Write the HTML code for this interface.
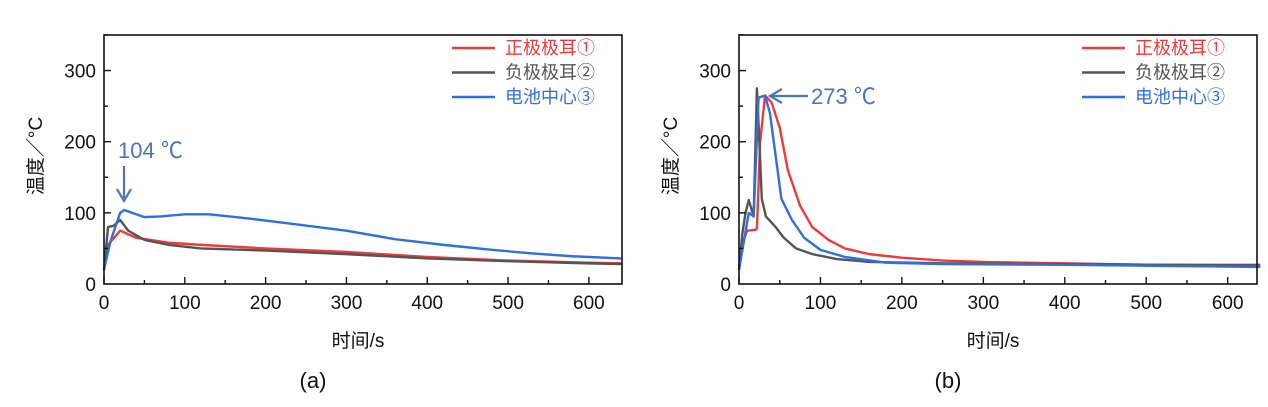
<!DOCTYPE html>
<html><head><meta charset="utf-8"><style>
body{margin:0;background:#fff;}
svg text{font-family:"Liberation Sans","Noto Sans CJK SC",sans-serif;}
</style></head><body>
<svg width="1268" height="402" viewBox="0 0 1268 402" xmlns="http://www.w3.org/2000/svg">
<g id="ga"></g>
<g id="gb"></g>
</svg>
<script>
const seriesNames=["正极极耳①","负极极耳②","电池中心③"];
const seriesColors=["#ee3a3a","#555555","#2f6fde"];
const xTicks=[0,100,200,300,400,500,600];
const yTicks=[0,100,200,300];
const aRedX=[0,5,20,40,80,120,200,300,400,500,600,640];
const aRedY=[20,55,75,65,58,55,50,45,38,33,30,29];
const aGrayX=[0,5,12,20,30,50,80,120,200,300,400,500,600,640];
const aGrayY=[20,80,82,90,75,62,55,50,47,42,36,32,29,28];
const aBlueX=[0,8,20,25,35,50,70,100,130,180,230,300,360,420,480,530,580,640];
const aBlueY=[20,60,100,104,100,94,95,98,98,92,85,75,63,55,48,43,39,36];
const bRedX=[0,5,10,20,22,26,32,40,50,60,75,90,110,130,160,200,250,300,400,500,640];
const bRedY=[20,60,75,76,78,200,265,255,220,160,110,80,62,50,42,37,33,31,29,27,27];
const bGrayX=[0,4,8,12,18,22,25,28,33,45,55,70,90,120,160,250,400,640];
const bGrayY=[20,70,100,118,95,275,200,120,95,80,65,50,42,35,31,29,28,26];
const bBlueX=[0,6,12,18,24,32,38,45,52,65,80,100,130,180,250,400,640];
const bBlueY=[20,60,100,95,262,265,240,180,120,90,65,48,38,30,28,27,24];
const NS="http://www.w3.org/2000/svg";
function mk(p,t,a,txt){const e=document.createElementNS(NS,t);for(const k in a)e.setAttribute(k,a[k]);if(txt!==undefined)e.textContent=txt;p.appendChild(e);return e;}
function chart(g,L,R,xmax,lx,series,ann,lab){
  const T=35,B=284,ymax=350;
  const X=v=>L+v/xmax*(R-L), Y=v=>B-v/ymax*(B-T);
  series.forEach((s,i)=>{
    const p=mk(g,"polyline",{points:s[0].map((x,j)=>X(x)+","+Y(s[1][j])).join(" "),fill:"none",stroke:seriesColors[i],"stroke-width":2.4,"stroke-linejoin":"round"});
    
    
  });
  const f=mk(g,"rect",{x:L,y:T,width:R-L,height:B-T,fill:"none",stroke:"#111","stroke-width":1.6});
  
  for(let v=0;v<=xmax;v+=50){const big=v%100==0;mk(g,"line",{x1:X(v),x2:X(v),y1:B,y2:B-(big?7:4),stroke:"#111","stroke-width":1.4});}
  for(let v=50;v<=ymax;v+=50){const big=v%100==0;mk(g,"line",{x1:L,x2:L+(big?7:4),y1:Y(v),y2:Y(v),stroke:"#111","stroke-width":1.4});}
  xTicks.forEach(v=>{const t=mk(g,"text",{x:X(v),y:B+25,"font-size":19,"text-anchor":"middle",fill:"#111"},v);});
  yTicks.forEach(v=>{const t=mk(g,"text",{x:L-8,y:Y(v)+7,"font-size":19,"text-anchor":"end",fill:"#111"},v);});
  const yt=mk(g,"text",{x:0,y:0,"font-size":19,"text-anchor":"middle",fill:"#111",transform:`translate(${L-62},156) rotate(-90)`},"温度／°C");
  
  const xt=mk(g,"text",{x:(L+R)/2-5,y:347,"font-size":19,"text-anchor":"middle",fill:"#111"},"时间/s");
  
  const pl=mk(g,"text",{x:(L+R)/2-50,y:388,"font-size":22,"text-anchor":"middle",fill:"#111"},lab);
  
  seriesNames.forEach((n,i)=>{const y=48+i*24.5;
    mk(g,"line",{x1:lx,x2:lx+43,y1:y,y2:y,stroke:seriesColors[i],"stroke-width":2.4});
    const t=mk(g,"text",{x:lx+53,y:y+6,"font-size":18,fill:seriesColors[i]},n);
    });
  ann(g,X,Y);
}
chart(document.getElementById("ga"),104,622,641,452,[[aRedX,aRedY],[aGrayX,aGrayY],[aBlueX,aBlueY]],(g,X,Y)=>{
  const t=mk(g,"text",{x:118,y:158,"font-size":22,fill:"#4a72c4"},"104 ℃");
  mk(g,"line",{x1:124,x2:124,y1:166,y2:198,stroke:"#4a72c4","stroke-width":2.2});
  mk(g,"path",{d:"M117,189 L124,201 L131,189",fill:"none",stroke:"#4a72c4","stroke-width":2.2});
},"(a)");
chart(document.getElementById("gb"),739,1257,636,1082,[[bRedX,bRedY],[bGrayX,bGrayY],[bBlueX,bBlueY]],(g,X,Y)=>{
  const t=mk(g,"text",{x:811,y:104,"font-size":22,fill:"#4a72c4"},"273 ℃");
  mk(g,"line",{x1:808,x2:772,y1:96,y2:96,stroke:"#4a72c4","stroke-width":2.2});
  mk(g,"path",{d:"M782,89 L770,96 L782,103",fill:"none",stroke:"#4a72c4","stroke-width":2.2});
},"(b)");
</script>
</body></html>
